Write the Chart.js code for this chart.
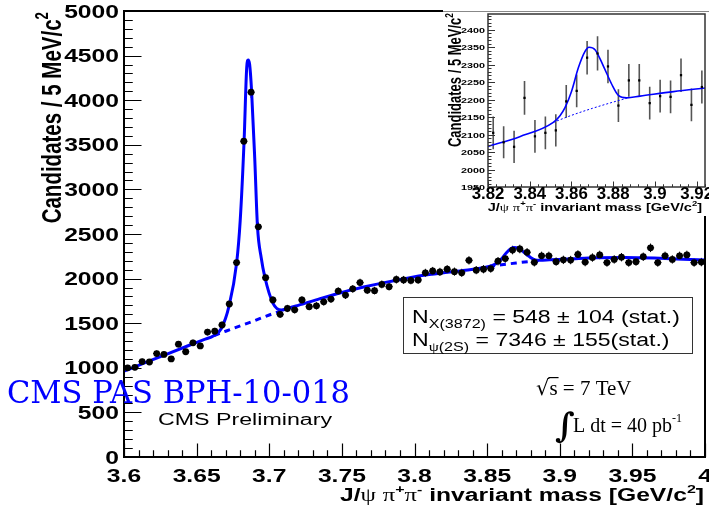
<!DOCTYPE html>
<html>
<head>
<meta charset="utf-8">
<script src="https://cdn.jsdelivr.net/npm/chart.js@4.4.1/dist/chart.umd.min.js"></script>
<style>
  html, body { margin: 0; padding: 0; background: #fff; }
  #wrap { position: relative; width: 709px; height: 508px; overflow: hidden; }
  #main { position: absolute; left: 0; top: 0; }
  #inset { position: absolute; left: 443px; top: 10px; }
</style>
</head>
<body>
<div id="wrap">
  <canvas id="main" width="709" height="508" style="width:709px;height:508px"></canvas>
  <canvas id="inset" width="266" height="206" style="width:266px;height:206px"></canvas>
</div>
<script>
// ---- data ----
var massBins = [
  3.6025, 3.6075, 3.6125, 3.6175, 3.6225, 3.6275, 3.6325, 3.6375, 3.6425, 3.6475,
  3.6525, 3.6575, 3.6625, 3.6675, 3.6725, 3.6775, 3.6825, 3.6875, 3.6925, 3.6975,
  3.7025, 3.7075, 3.7125, 3.7175, 3.7225, 3.7275, 3.7325, 3.7375, 3.7425, 3.7475,
  3.7525, 3.7575, 3.7625, 3.7675, 3.7725, 3.7775, 3.7825, 3.7875, 3.7925, 3.7975,
  3.8025, 3.8075, 3.8125, 3.8175, 3.8225, 3.8275, 3.8325, 3.8375, 3.8425, 3.8475,
  3.8525, 3.8575, 3.8625, 3.8675, 3.8725, 3.8775, 3.8825, 3.8875, 3.8925, 3.8975,
  3.9025, 3.9075, 3.9125, 3.9175, 3.9225, 3.9275, 3.9325, 3.9375, 3.9425, 3.9475,
  3.9525, 3.9575, 3.9625, 3.9675, 3.9725, 3.9775, 3.9825, 3.9875, 3.9925, 3.9975
];
var candidates = [
  1000, 1005, 1070, 1065, 1160, 1150, 1100, 1265, 1180, 1280,
  1245, 1400, 1410, 1480, 1715, 2180, 3540, 4090, 2580, 2010,
  1760, 1600, 1665, 1650, 1760, 1685, 1695, 1740, 1770, 1860,
  1815, 1885, 1955, 1870, 1865, 1935, 1910, 1990, 1985, 1980,
  1985, 2065, 2085, 2075, 2105, 2078, 2065, 2205, 2095, 2105,
  2112, 2195, 2225, 2320, 2332, 2295, 2183, 2255, 2255, 2190,
  2210, 2208, 2270, 2185, 2236, 2265, 2180, 2215, 2240, 2180,
  2190, 2245, 2345, 2180, 2255, 2215, 2255, 2265, 2180, 2185
];
var candErr = [
  32, 32, 33, 33, 34, 34, 33, 36, 34, 36,
  35, 37, 38, 38, 41, 47, 60, 64, 51, 45,
  42, 40, 41, 41, 42, 41, 41, 42, 42, 43,
  43, 43, 44, 43, 43, 44, 44, 45, 45, 44,
  45, 45, 46, 46, 46, 46, 45, 47, 46, 46,
  46, 47, 47, 48, 48, 48, 47, 47, 47, 47,
  47, 47, 48, 47, 47, 48, 47, 47, 47, 47,
  47, 47, 48, 47, 47, 47, 47, 48, 47, 47
];

// total fit (solid blue)
var fitMass = [3.600, 3.615, 3.630, 3.645, 3.655, 3.662, 3.667, 3.6722, 3.6775, 3.680,
  3.6827, 3.6845, 3.6855, 3.6865, 3.6878, 3.690, 3.6919, 3.6945, 3.6969, 3.7026, 3.7084,
  3.712, 3.720, 3.735, 3.750, 3.765, 3.780, 3.795, 3.810, 3.820, 3.835,
  3.8513, 3.8545, 3.8569, 3.8601, 3.8633, 3.8665, 3.8684, 3.8713, 3.8753, 3.8793,
  3.8825, 3.8865, 3.8929, 3.9089, 3.925, 3.945, 3.965, 3.985, 4.000];
var fitCand = [962, 1060, 1157, 1253, 1316, 1362, 1440, 1685, 2170, 2650,
  3554, 4370, 4450, 4400, 4115, 3350, 2582, 2230, 2021, 1723, 1648,
  1662, 1700, 1775, 1845, 1905, 1958, 2005, 2045, 2066, 2094,
  2135, 2154, 2177, 2225, 2291, 2338, 2350, 2343, 2296, 2244,
  2212, 2205, 2210, 2223, 2234, 2236, 2230, 2218, 2208];

// background only (dashed blue) under the two peaks
var bgPsiMass = [3.662, 3.670, 3.680, 3.690, 3.700, 3.710];
var bgPsiCand = [1362, 1410, 1470, 1530, 1592, 1648];
var bgXMass = [3.8513, 3.860, 3.870, 3.880, 3.8865];
var bgXCand = [2135, 2155, 2175, 2193, 2204];

// inset (zoom on the X(3872))
var insetMass = [3.8225, 3.8275, 3.8325, 3.8375, 3.8425, 3.8475, 3.8525, 3.8575, 3.8625, 3.8675,
  3.8725, 3.8775, 3.8825, 3.8875, 3.8925, 3.8975, 3.9025, 3.9075, 3.9125, 3.9175, 3.9225];
var insetCand = [2105, 2078, 2065, 2205, 2095, 2105, 2112, 2195, 2225, 2320,
  2332, 2295, 2183, 2255, 2255, 2190, 2210, 2208, 2270, 2185, 2236];
var insetErr = [47, 46, 46, 48, 47, 47, 46, 47, 47, 48,
  49, 48, 47, 47, 47, 47, 47, 47, 48, 47, 47];
var insetFitMass = [3.82, 3.8352, 3.8513, 3.8545, 3.8569, 3.8601, 3.8633, 3.8665, 3.8684,
  3.8713, 3.8753, 3.8793, 3.8825, 3.8865, 3.8929, 3.9089, 3.925];
var insetFitCand = [2066, 2094, 2135, 2154, 2177, 2225, 2291, 2338, 2350,
  2343, 2296, 2244, 2212, 2205, 2210, 2223, 2234];

// tick labels
var mainXTicks = [3.6, 3.65, 3.7, 3.75, 3.8, 3.85, 3.9, 3.95, 4];
var mainYTicks = [0, 500, 1000, 1500, 2000, 2500, 3000, 3500, 4000, 4500, 5000];
var insetXTicks = [3.82, 3.84, 3.86, 3.88, 3.9, 3.92];
var insetYTicks = [1950, 2000, 2050, 2100, 2150, 2200, 2250, 2300, 2350, 2400];

// ---- helpers ----
var SANS = '"Liberation Sans", Arial, sans-serif';
var SERIF = '"Liberation Serif", "Times New Roman", serif';
var BLUE = '#0000ff';

function pairs(xs, ys) {
  return xs.map(function (x, i) { return { x: x, y: ys[i] }; });
}

// draw a run of text pieces [text, sizeFactor, dyFactor, family, weight]
function rich(ctx, segs, x, y, size, weight, family, sx, align, rotated) {
  ctx.save();
  ctx.translate(x, y);
  if (rotated) { ctx.rotate(-Math.PI / 2); ctx.scale(1, sx); } else { ctx.scale(sx, 1); }
  ctx.textAlign = 'left';
  ctx.textBaseline = 'alphabetic';
  ctx.fillStyle = '#000';
  var fonts = [], widths = [], total = 0;
  segs.forEach(function (g) {
    var f = (g[4] || weight) + ' ' + (size * (g[1] || 1)) + 'px ' + (g[3] || family);
    ctx.font = f;
    var w = ctx.measureText(g[0]).width;
    fonts.push(f); widths.push(w); total += w;
  });
  var cx = align === 'right' ? -total : align === 'center' ? -total / 2 : 0;
  segs.forEach(function (g, i) {
    ctx.font = fonts[i];
    ctx.fillText(g[0], cx, (g[2] || 0) * size);
    cx += widths[i];
  });
  ctx.restore();
}

function frameAndTicks(chart, cfg) {
  var ctx = chart.ctx, a = chart.chartArea;
  var xs = chart.scales.x, ys = chart.scales.y;
  ctx.save();
  ctx.strokeStyle = cfg.color;
  ctx.lineWidth = cfg.tickWidth;
  ctx.beginPath();
  var nx = Math.round((cfg.xMax - cfg.xMin) / cfg.xMinor);
  for (var i = 0; i <= nx; i++) {
    var px = Math.round(xs.getPixelForValue(cfg.xMin + i * cfg.xMinor)) + 0.5;
    var len = i % cfg.xPer === 0 ? cfg.xMajorLen : cfg.xMajorLen / 2;
    ctx.moveTo(px, a.bottom);
    ctx.lineTo(px, a.bottom - len);
  }
  var ny = Math.floor((cfg.yMax - cfg.yMin) / cfg.yMinor + 1e-6);
  for (var j = 0; j <= ny; j++) {
    var py = Math.round(ys.getPixelForValue(cfg.yMin + j * cfg.yMinor)) + 0.5;
    var ylen = j % cfg.yPer === 0 ? cfg.yMajorLen : cfg.yMajorLen / 2;
    ctx.moveTo(a.left, py);
    ctx.lineTo(a.left + ylen, py);
  }
  ctx.stroke();
  ctx.lineWidth = cfg.frameWidth;
  ctx.strokeRect(a.left, a.top, a.right - a.left, a.bottom - a.top);
  ctx.restore();
}

// ---- main chart ----
var mainDeco = {
  id: 'mainDeco',
  beforeDatasetsDraw: function (chart) {
    var ctx = chart.ctx, xs = chart.scales.x, ys = chart.scales.y;
    ctx.save();
    ctx.strokeStyle = '#000';
    ctx.lineWidth = 1;
    ctx.beginPath();
    massBins.forEach(function (m, i) {
      var px = xs.getPixelForValue(m);
      ctx.moveTo(px, ys.getPixelForValue(candidates[i] - candErr[i]));
      ctx.lineTo(px, ys.getPixelForValue(candidates[i] + candErr[i]));
      var py = ys.getPixelForValue(candidates[i]);
      ctx.moveTo(xs.getPixelForValue(m - 0.0025), py);
      ctx.lineTo(xs.getPixelForValue(m + 0.0025), py);
    });
    ctx.stroke();
    ctx.restore();
  },
  afterDraw: function (chart) {
    var ctx = chart.ctx, a = chart.chartArea;
    var xs = chart.scales.x, ys = chart.scales.y;
    frameAndTicks(chart, {
      color: '#000', tickWidth: 1.2, frameWidth: 2,
      xMin: 3.6, xMax: 4.0, xMinor: 0.01, xPer: 5, xMajorLen: 13.4,
      yMin: 0, yMax: 5000, yMinor: 100, yPer: 5, yMajorLen: 17.5
    });

    mainYTicks.forEach(function (v) {
      rich(ctx, [[String(v)]], 119, ys.getPixelForValue(v) + 6.5, 18, 'bold', SANS, 1.37, 'right');
    });
    mainXTicks.forEach(function (v) {
      rich(ctx, [[String(v)]], xs.getPixelForValue(v), 482, 18, 'bold', SANS, 1.37, 'center');
    });

    // axis titles
    rich(ctx, [['J/'], ['\u03c8', 1, 0, SERIF, 'normal'], [' '], ['\u03c0', 1, 0, SERIF, 'normal'],
      ['+', 0.65, -0.45], ['\u03c0', 1, 0, SERIF, 'normal'], ['-', 0.65, -0.45],
      [' invariant mass [GeV/c'], ['2', 0.65, -0.45], [']']],
      704, 501, 18, 'bold', SANS, 1.37, 'right');
    rich(ctx, [['Candidates / 5 MeV/c'], ['2', 0.65, -0.45]],
      61, 12, 20.5, 'bold', SANS, 1.37, 'right', true);

    // yield box
    ctx.save();
    ctx.fillStyle = '#fff';
    ctx.fillRect(403, 297, 290, 56);
    ctx.strokeStyle = '#333';
    ctx.lineWidth = 1;
    ctx.strokeRect(403.5, 297.5, 289, 56);
    ctx.restore();
    rich(ctx, [['N'], ['X(3872)', 0.7, 0.3], [' = 548 \u00b1 104 (stat.)']],
      412, 323, 18, 'normal', SANS, 1.28, 'left');
    rich(ctx, [['N'], ['\u03c8', 0.7, 0.3, SERIF], ['(2S)', 0.7, 0.3], [' = 7346 \u00b1 155(stat.)']],
      412, 346, 18, 'normal', SANS, 1.28, 'left');

    // sqrt(s) and luminosity
    ctx.save();
    ctx.fillStyle = '#000';
    ctx.font = '21px "DejaVu Serif", serif';
    ctx.textBaseline = 'alphabetic';
    var rx = 536, ry = 395;
    ctx.fillText('\u221a', rx, ry);
    var rw = ctx.measureText('\u221a').width;
    var rTop = ry - ctx.measureText('\u221a').actualBoundingBoxAscent;
    ctx.font = '21px ' + SERIF;
    var sw = ctx.measureText('s').width;
    ctx.fillText('s', rx + rw, ry);
    ctx.strokeStyle = '#000';
    ctx.lineWidth = 1.2;
    ctx.beginPath();
    ctx.moveTo(rx + rw - 1, rTop + 0.6);
    ctx.lineTo(rx + rw + sw + 1, rTop + 0.6);
    ctx.stroke();
    ctx.fillText(' = 7 TeV', rx + rw + sw, ry);

    ctx.font = 'bold 34px "DejaVu Serif", serif';
    ctx.fillText('\u222b', 555, 437);
    ctx.restore();
    rich(ctx, [['L dt = 40 pb'], ['-1', 0.6, -0.5]], 573, 432, 20, 'normal', SERIF, 1, 'left');

    // labels
    rich(ctx, [['CMS Preliminary']], 158, 425, 16, 'normal', SANS, 1.45, 'left');
    ctx.save();
    ctx.font = '32px "DejaVu Serif", serif';
    var tag = 'CMS PAS BPH-10-018';
    var tw = ctx.measureText(tag).width;
    ctx.restore();
    ctx.save();
    ctx.fillStyle = BLUE;
    ctx.font = '32px "DejaVu Serif", serif';
    ctx.translate(7, 403);
    ctx.scale(343 / tw, 1);
    ctx.fillText(tag, 0, 0);
    ctx.restore();
  }
};

new Chart(document.getElementById('main'), {
  type: 'scatter',
  data: {
    datasets: [
      {
        data: pairs(massBins, candidates),
        pointRadius: 3.4,
        pointBackgroundColor: '#000',
        pointBorderWidth: 0,
        order: 0
      },
      {
        data: pairs(fitMass, fitCand),
        showLine: true,
        borderColor: BLUE,
        borderWidth: 3,
        pointRadius: 0,
        cubicInterpolationMode: 'monotone',
        order: 1
      },
      {
        data: pairs(bgPsiMass, bgPsiCand),
        showLine: true,
        borderColor: BLUE,
        borderWidth: 3,
        borderDash: [6, 5],
        pointRadius: 0,
        cubicInterpolationMode: 'monotone',
        order: 2
      },
      {
        data: pairs(bgXMass, bgXCand),
        showLine: true,
        borderColor: BLUE,
        borderWidth: 3,
        borderDash: [6, 5],
        pointRadius: 0,
        cubicInterpolationMode: 'monotone',
        order: 2
      }
    ]
  },
  options: {
    responsive: false,
    animation: false,
    devicePixelRatio: 1,
    layout: { padding: { left: 124, top: 11, right: 3, bottom: 51 } },
    scales: {
      x: { type: 'linear', min: 3.6, max: 4.0, display: false },
      y: { type: 'linear', min: 0, max: 5000, display: false }
    },
    plugins: { legend: { display: false }, tooltip: { enabled: false } }
  },
  plugins: [mainDeco]
});

// ---- inset chart ----
var insetDeco = {
  id: 'insetDeco',
  beforeDraw: function (chart) {
    var ctx = chart.ctx;
    ctx.save();
    ctx.fillStyle = '#fff';
    ctx.fillRect(0, 0, chart.width, chart.height);
    ctx.strokeStyle = '#888';
    ctx.lineWidth = 1;
    ctx.beginPath();
    ctx.moveTo(0, 1.5);
    ctx.lineTo(chart.width, 1.5);
    ctx.stroke();
    ctx.restore();
  },
  beforeDatasetsDraw: function (chart) {
    var ctx = chart.ctx, xs = chart.scales.x, ys = chart.scales.y;
    ctx.save();
    ctx.strokeStyle = '#555';
    ctx.lineWidth = 1.6;
    ctx.beginPath();
    insetMass.forEach(function (m, i) {
      var px = xs.getPixelForValue(m);
      ctx.moveTo(px, ys.getPixelForValue(insetCand[i] - insetErr[i]));
      ctx.lineTo(px, ys.getPixelForValue(insetCand[i] + insetErr[i]));
    });
    ctx.stroke();
    ctx.restore();
  },
  afterDraw: function (chart) {
    var ctx = chart.ctx;
    var xs = chart.scales.x, ys = chart.scales.y;
    frameAndTicks(chart, {
      color: '#333', tickWidth: 1, frameWidth: 1.5,
      xMin: 3.82, xMax: 3.924, xMinor: 0.004, xPer: 5, xMajorLen: 5.5,
      yMin: 1950, yMax: 2445, yMinor: 10, yPer: 5, yMajorLen: 7
    });
    insetYTicks.forEach(function (v) {
      rich(ctx, [[String(v)]], 42, ys.getPixelForValue(v) + 3, 8, 'bold', SANS, 1.35, 'right');
    });
    insetXTicks.forEach(function (v) {
      rich(ctx, [[String(v)]], xs.getPixelForValue(v), 189, 16, 'bold', SANS, 1.05, 'center');
    });
    rich(ctx, [['J/'], ['\u03c8', 1, 0, SERIF, 'normal'], [' '], ['\u03c0', 1, 0, SERIF, 'normal'],
      ['+', 0.65, -0.45], ['\u03c0', 1, 0, SERIF, 'normal'], ['-', 0.65, -0.45],
      [' invariant mass [GeV/c'], ['2', 0.65, -0.45], [']']],
      259, 201, 11, 'bold', SANS, 1.32, 'right');
    rich(ctx, [['Candidates / 5 MeV/c'], ['2', 0.65, -0.45]],
      18, 3, 13, 'bold', SANS, 1.37, 'right', true);
  }
};

new Chart(document.getElementById('inset'), {
  type: 'scatter',
  data: {
    datasets: [
      {
        data: pairs(insetMass, insetCand),
        pointStyle: 'rect',
        pointRadius: 1.6,
        pointBackgroundColor: '#000',
        pointBorderWidth: 0,
        order: 0
      },
      {
        data: pairs(insetFitMass, insetFitCand),
        showLine: true,
        borderColor: BLUE,
        borderWidth: 1.6,
        pointRadius: 0,
        cubicInterpolationMode: 'monotone',
        order: 1
      },
      {
        data: pairs(bgXMass, bgXCand),
        showLine: true,
        borderColor: BLUE,
        borderWidth: 1,
        borderDash: [2, 2],
        pointRadius: 0,
        cubicInterpolationMode: 'monotone',
        order: 2
      }
    ]
  },
  options: {
    responsive: false,
    animation: false,
    devicePixelRatio: 1,
    layout: { padding: { left: 45, top: 2, right: 4, bottom: 29 } },
    scales: {
      x: { type: 'linear', min: 3.82, max: 3.924, display: false },
      y: { type: 'linear', min: 1950, max: 2445, display: false }
    },
    plugins: { legend: { display: false }, tooltip: { enabled: false } }
  },
  plugins: [insetDeco]
});
</script>
</body>
</html>
